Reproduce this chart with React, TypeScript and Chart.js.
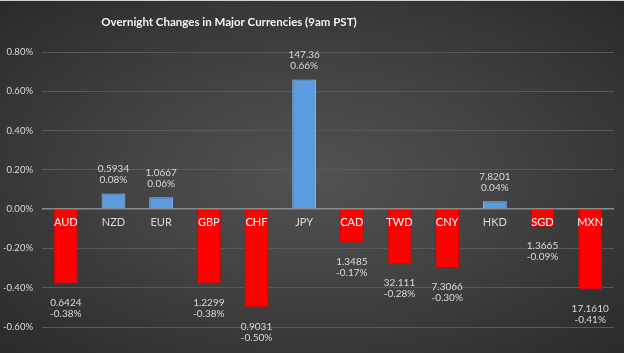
import React, { useEffect, useRef } from "react";
import { Chart, registerables } from "chart.js";

Chart.register(...registerables);

const categories = ["AUD", "NZD", "EUR", "GBP", "CHF", "JPY", "CAD", "TWD", "CNY", "HKD", "SGD", "MXN"];
const changes = [-0.38, 0.08, 0.06, -0.38, -0.5, 0.66, -0.17, -0.28, -0.3, 0.04, -0.09, -0.41];
const rates = ["0.6424", "0.5934", "1.0667", "1.2299", "0.9031", "147.36", "1.3485", "32.111", "7.3066", "7.8201", "1.3665", "17.1610"];
const titleText = "Overnight Changes in Major Currencies (9am PST)";

const FONT = "Lato, 'Open Sans', sans-serif";

const labelPlugin = {
  id: "labels",
  afterDatasetsDraw(chart: any) {
    const ctx = chart.ctx;
    const meta = chart.getDatasetMeta(0);
    const zeroY = chart.scales.y.getPixelForValue(0);
    ctx.save();
    ctx.textAlign = "center";
    ctx.textBaseline = "middle";
    meta.data.forEach((bar: any, i: number) => {
      const v = changes[i];
      const x = bar.x;
      const y = bar.y;
      ctx.font = `10px ${FONT}`;
      ctx.fillStyle = "#d9d9d9";
      if (v >= 0) {
        ctx.fillText(rates[i], x, y - 25);
        ctx.fillText(v.toFixed(2) + "%", x, y - 14);
      } else {
        ctx.fillText(rates[i], x, y + 19);
        ctx.fillText(v.toFixed(2) + "%", x, y + 30);
      }
      ctx.font = `11px ${FONT}`;
      ctx.fillStyle = v < 0 ? "#ffffff" : "#d9d9d9";
      ctx.fillText(categories[i], x, zeroY + 13);
    });
    ctx.font = `bold 11.5px ${FONT}`;
    ctx.fillStyle = "#f2f2f2";
    ctx.fillText(titleText, 229, 21);
    ctx.restore();
  },
};

export default function App() {
  const ref = useRef<HTMLCanvasElement>(null);
  useEffect(() => {
    if (!ref.current) return;
    const chart = new Chart(ref.current, {
      type: "bar",
      data: {
        labels: categories,
        datasets: [
          {
            data: changes,
            backgroundColor: changes.map((v) => (v < 0 ? "#ff0000" : "#5b9bdf")),
            borderColor: changes.map((v) => (v < 0 ? "#d40000" : "#8cbcf0")),
            borderWidth: 1,
            barPercentage: 0.5,
            categoryPercentage: 1,
          },
        ],
      },
      plugins: [labelPlugin],
      options: {
        responsive: false,
        animation: false,
        layout: { padding: { top: 51, bottom: 26, right: 10, left: 0 } },
        plugins: { legend: { display: false }, tooltip: { enabled: false }, title: { display: false } },
        scales: {
          x: {
            ticks: { display: false },
            grid: { display: false, drawTicks: false },
            border: { display: false },
          },
          y: {
            min: -0.6,
            max: 0.8,
            ticks: {
              stepSize: 0.2,
              color: "#d9d9d9",
              font: { family: FONT, size: 9.5 },
              padding: 9,
              callback: (v: any) => Number(v).toFixed(2) + "%",
            },
            grid: {
              drawTicks: false,
              color: (c: any) => (Math.abs(c.tick.value) < 1e-9 ? "#8a8a8a" : "#595959"),
              lineWidth: (c: any) => (Math.abs(c.tick.value) < 1e-9 ? 1.5 : 1),
            },
            border: { display: false },
            afterFit: (s: any) => {
              s.width = 42;
            },
          },
        },
      },
    });
    return () => chart.destroy();
  }, []);
  return (
    <div
      style={{
        position: "fixed",
        left: 0,
        top: 0,
        width: 624,
        height: 353,
        background: "radial-gradient(ellipse at 50% 50%, #525252 0%, #444444 40%, #2a2a2a 100%)",
        borderTop: "1px solid #d0d0d0",
        boxSizing: "border-box",
      }}
    >
      <canvas ref={ref} width={624} height={352} style={{ display: "block" }} />
    </div>
  );
}
